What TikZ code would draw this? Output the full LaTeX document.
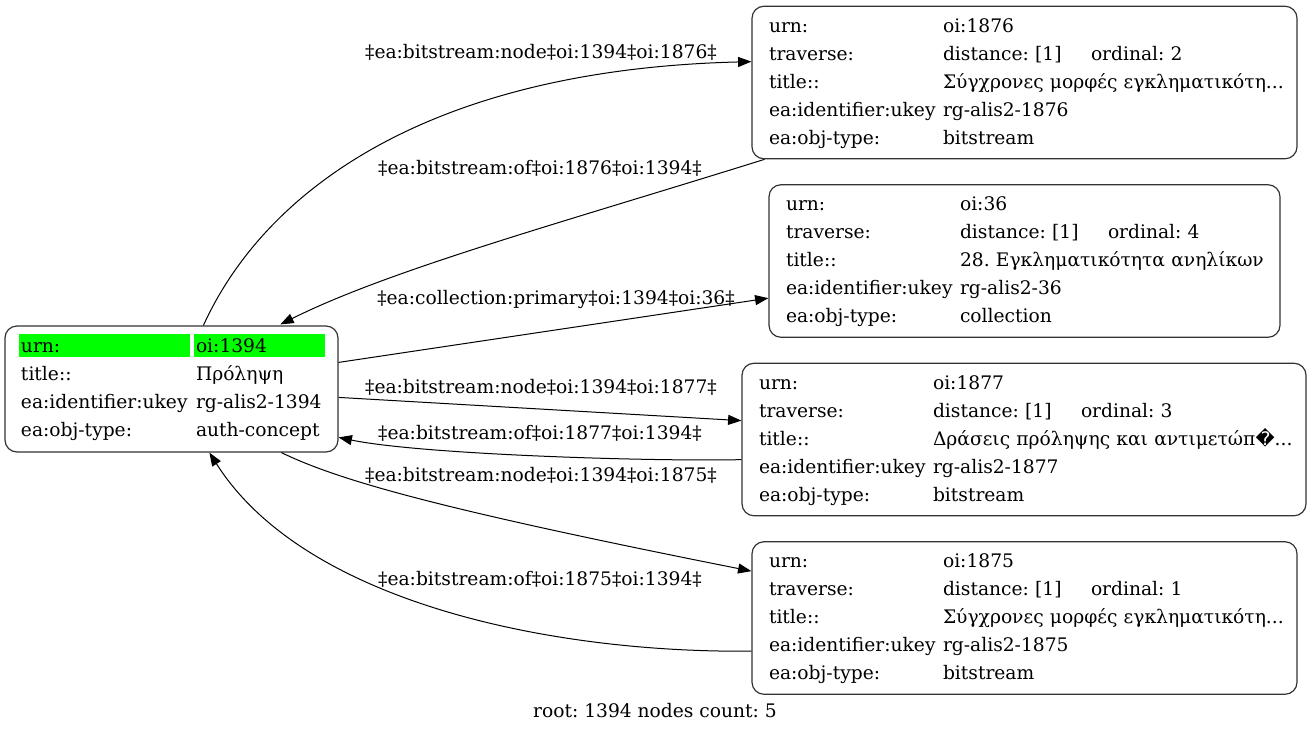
\documentclass[tikz,border=0pt]{standalone}
\usepackage{fontspec}
\setmainfont{DejaVu Serif}
\newfontfamily\symfont{DejaVu Sans}
\usepackage{xcolor}
\usetikzlibrary{arrows.meta,calc}
\definecolor{hlgreen}{HTML}{00FF00}
\definecolor{boxline}{HTML}{333333}
\setlength{\fboxsep}{0pt}
\frenchspacing
\newcommand{\hlcell}[2]{\colorbox{hlgreen}{\makebox[#1][l]{\rule[-3pt]{0pt}{17.25pt}\hspace{1.5pt}#2}}}
\newcommand{\pad}{\hspace*{1.5pt}}
\newcommand{\trav}[1]{\makebox[111pt][l]{distance: [1]}ordinal: #1}

\begin{document}
\begin{tikzpicture}[x=0.75pt,y=-0.75pt,->,>={Triangle[length=10pt,width=7.5pt]},
        line width=0.75pt,font=\fontsize{14}{21}\selectfont\frenchspacing,
        record/.style={draw=boxline,line width=0.9pt,rounded corners=9pt,inner xsep=12.75pt,inner ysep=0pt,
          minimum height=114.4pt,text width=#1,align=left}]

  \useasboundingbox (0,0) rectangle (1312,732);

  \node[record=228.75pt,inner xsep=10.5pt,minimum height=94.5pt] (root) at (171.5,389) {%
    \begin{tabular}{@{}p{131.25pt}@{}l@{}}
      \hlcell{128.25pt}{urn:} & \hlcell{98.25pt}{oi:1394}\\
      \pad title:: & \pad Πρόληψη\\
      \pad ea:identifier:ukey & \pad rg-alis2-1394\\
      \pad ea:obj-type: & \pad auth-concept
    \end{tabular}};
  \node[record=383.25pt] (n1876) at (1024.5,82.5) {%
    \begin{tabular}{@{}p{130.5pt}@{}l@{}}
      urn: & oi:1876\\
      traverse: & \trav{2}\\
      title:: & Σύγχρονες μορφές εγκληματικότη...\\
      ea:identifier:ukey & rg-alis2-1876\\
      ea:obj-type: & bitstream
    \end{tabular}};
  \node[record=357.75pt] (n36) at (1024.5,261) {%
    \begin{tabular}{@{}p{130.5pt}@{}l@{}}
      urn: & oi:36\\
      traverse: & \trav{4}\\
      title:: & 28. Εγκληματικότητα ανηλίκων\\
      ea:identifier:ukey & rg-alis2-36\\
      ea:obj-type: & collection
    \end{tabular}};
  \node[record=397.5pt] (n1877) at (1024,439.5) {%
    \begin{tabular}{@{}p{130.5pt}@{}l@{}}
      urn: & oi:1877\\
      traverse: & \trav{3}\\
      title:: & Δράσεις πρόληψης και αντιμετώπ{\symfont �}...\\
      ea:identifier:ukey & rg-alis2-1877\\
      ea:obj-type: & bitstream
    \end{tabular}};
  \node[record=383.25pt] (n1875) at (1024.5,618) {%
    \begin{tabular}{@{}p{130.5pt}@{}l@{}}
      urn: & oi:1875\\
      traverse: & \trav{1}\\
      title:: & Σύγχρονες μορφές εγκληματικότη...\\
      ea:identifier:ukey & rg-alis2-1875\\
      ea:obj-type: & bitstream
    \end{tabular}};

  \draw ($(root.north west)+(199,0)$) .. controls +(62,-136) and +(-322,8) .. ($(n1876.north west)+(0,56)$);
  \draw ($(n1876.south west)+(13,0)$) .. controls +(-198,62) and +(110,-55) .. ($(root.north west)+(276,-1)$);
  \draw ($(root.north east)+(0,37)$) -- ($(n36.north west)+(0,114)$);
  \draw ($(root.north east)+(0,72)$) -- ($(n1877.north west)+(0,58)$);
  \draw ($(n1877.north west)+(0,97)$) .. controls +(-92,2) and +(82,17) .. ($(root.north east)+(0,112)$);
  \draw ($(root.south west)+(277,0)$) .. controls +(58,28) and +(-312,-62) .. ($(n1875.north west)+(0,30)$);
  \draw ($(n1875.north west)+(0,110)$) .. controls +(-200,2) and +(95,150) .. ($(root.south west)+(205,0)$);

  \node (l1876a) at (541,52) {‡ea:bitstream:node‡oi:1394‡oi:1876‡};
  \node (l1876b) at (540,168) {‡ea:bitstream:of‡oi:1876‡oi:1394‡};
  \node (l36) at (556,299) {‡ea:collection:primary‡oi:1394‡oi:36‡};
  \node (l1877a) at (541,387) {‡ea:bitstream:node‡oi:1394‡oi:1877‡};
  \node (l1877b) at (540,433) {‡ea:bitstream:of‡oi:1877‡oi:1394‡};
  \node (l1875a) at (541,475) {‡ea:bitstream:node‡oi:1394‡oi:1875‡};
  \node (l1875b) at (540,579) {‡ea:bitstream:of‡oi:1875‡oi:1394‡};

  \node (footer) at (655,711) {root: 1394 nodes count: 5};

\end{tikzpicture}
\end{document}
